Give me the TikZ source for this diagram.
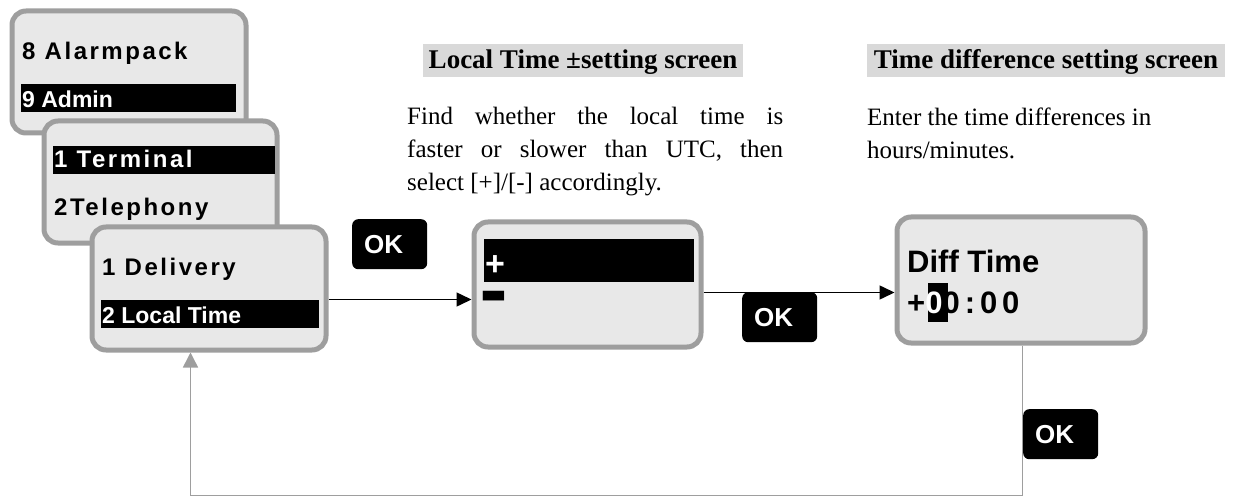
\documentclass[tikz,border=0pt]{standalone}
\usepackage{fontspec}
\setmainfont{Liberation Serif}
\newfontfamily\lcdf{Liberation Sans}
\newfontfamily\lcdsp[LetterSpace=10.5]{Liberation Sans}
\newfontfamily\lcdspb[LetterSpace=16]{Liberation Sans}
\usetikzlibrary{arrows.meta}
\definecolor{lcdfill}{HTML}{E8E8E8}
\definecolor{lcdedge}{HTML}{9E9E9E}
\definecolor{hlgray}{HTML}{D9D9D9}
\tikzset{
  lcd/.style={draw=lcdedge, fill=lcdfill, line width=5pt, rounded corners=14pt, anchor=north west, inner sep=0pt},
  selbar/.style={fill=black, anchor=north west, inner sep=0pt},
  lcdtxt/.style={anchor=base west, inner sep=0pt, font={\lcdf\bfseries\fontsize{23}{23}\selectfont}},
  lcdsptxt/.style={anchor=base west, inner sep=0pt, font={\lcdsp\bfseries\fontsize{24}{24}\selectfont}},
  bigtxt/.style={anchor=base west, inner sep=0pt, font={\lcdf\bfseries\fontsize{31}{31}\selectfont}},
  bigsptxt/.style={anchor=base west, inner sep=0pt, font={\lcdspb\bfseries\fontsize{31}{31}\selectfont}},
  signtxt/.style={anchor=base west, inner sep=0pt, font={\lcdf\bfseries\fontsize{34}{34}\selectfont}},
  okbtn/.style={fill=black, rounded corners=6pt, anchor=north west, text=white, minimum height=50pt,
    inner xsep=12pt, inner ysep=0pt, text width=51pt, align=left, font={\lcdf\bfseries\fontsize{26}{26}\selectfont}},
  heading/.style={anchor=base, inner sep=0pt, font={\bfseries\fontsize{27}{27}\selectfont}},
  body/.style={anchor=base west, inner sep=0pt, font={\fontsize{25}{25}\selectfont}},
  hlbox/.style={fill=hlgray, anchor=north west, inner sep=0pt},
  arr/.style={line width=1.5pt, -{Triangle[length=15pt,width=14pt]}},
  backarr/.style={draw=lcdedge, line width=1.5pt, -{Triangle[length=15pt,width=15pt]}}
}
\begin{document}
\begin{tikzpicture}[x=1pt,y=-1pt]
\useasboundingbox (0,0) rectangle (1234,497);

% headings
\node[hlbox, minimum width=320pt, minimum height=33pt] (h1bg) at (423,44) {};
\node[heading] (h1) at (583,69) {Local Time \textpm setting screen};
\node[hlbox, minimum width=358pt, minimum height=33pt] (h2bg) at (867,44) {};
\node[heading] (h2) at (1046,69) {Time difference setting screen};

% descriptions
\node[body] (d1) at (407,125) {\makebox[376pt][s]{Find whether the local time is}};
\node[body] (d2) at (407,158) {\makebox[376pt][s]{faster or slower than UTC, then}};
\node[body] (d3) at (407,191) {select [+]/[-] accordingly.};
\node[body] (e1) at (867,126) {Enter the time differences in};
\node[body] (e2) at (867,159) {hours/minutes.};

% menu screen 1
\node[lcd, minimum width=234pt, minimum height=122pt] (b1) at (9.5,8.5) {};
\node[lcdsptxt] (t11) at (22,60) {8 Alarmpack};
\node[selbar, minimum width=215pt, minimum height=28pt] (s1) at (21,84) {};
\node[lcdtxt, text=white] (t12) at (22,108) {9 Admin};

% menu screen 2
\node[lcd, minimum width=233pt, minimum height=122pt] (b2) at (41.5,118.5) {};
\node[selbar, minimum width=222pt, minimum height=28pt] (s2) at (53,146) {};
\node[lcdsptxt, text=white] (t21) at (54,168) {1 Terminal};
\node[lcdsptxt] (t22) at (54,215) {2Telephony};

% menu screen 3
\node[lcd, minimum width=234pt, minimum height=123pt] (b3) at (89.5,224.5) {};
\node[lcdsptxt] (t31) at (102,275) {1 Delivery};
\node[selbar, minimum width=218pt, minimum height=28pt] (s3) at (101,300) {};
\node[lcdtxt, text=white] (t32) at (102,323) {2 Local Time};

% sign screen
\node[lcd, minimum width=227pt, minimum height=125pt] (b4) at (471.5,219.5) {};
\node[selbar, minimum width=210pt, minimum height=43pt] (s4) at (484,239) {};
\node[signtxt, text=white] (plus) at (485,275) {+};
\node[signtxt] (minus) at (481,325) {\smash{\scalebox{1.25}[2.6]{\char"2212}}};

% diff time screen
\node[lcd, minimum width=248pt, minimum height=126pt] (b5) at (894.5,214.5) {};
\node[bigtxt] (t51) at (907,272) {Diff Time};
\node[selbar, minimum width=20pt, minimum height=39pt] (s5) at (928,283) {};
\node[bigsptxt] (t52) at (907,313) {+\textcolor{white}{0}0:00};

% OK buttons
\node[okbtn] (ok1) at (352,219) {OK};
\node[okbtn] (ok2) at (742,292) {OK};
\node[okbtn] (ok3) at (1023,409) {OK};

% connectors
\draw[arr] ([yshift=-11pt]b3.east) -- ([yshift=-15pt]b4.west);
\draw[arr] ([yshift=-8pt]b4.east) -- ([yshift=-12.5pt]b5.west);
\draw[backarr] ([xshift=1.5pt]b5.south) -- ++(0,150) -| ([xshift=-18.5pt]b3.south);
\end{tikzpicture}
\end{document}
